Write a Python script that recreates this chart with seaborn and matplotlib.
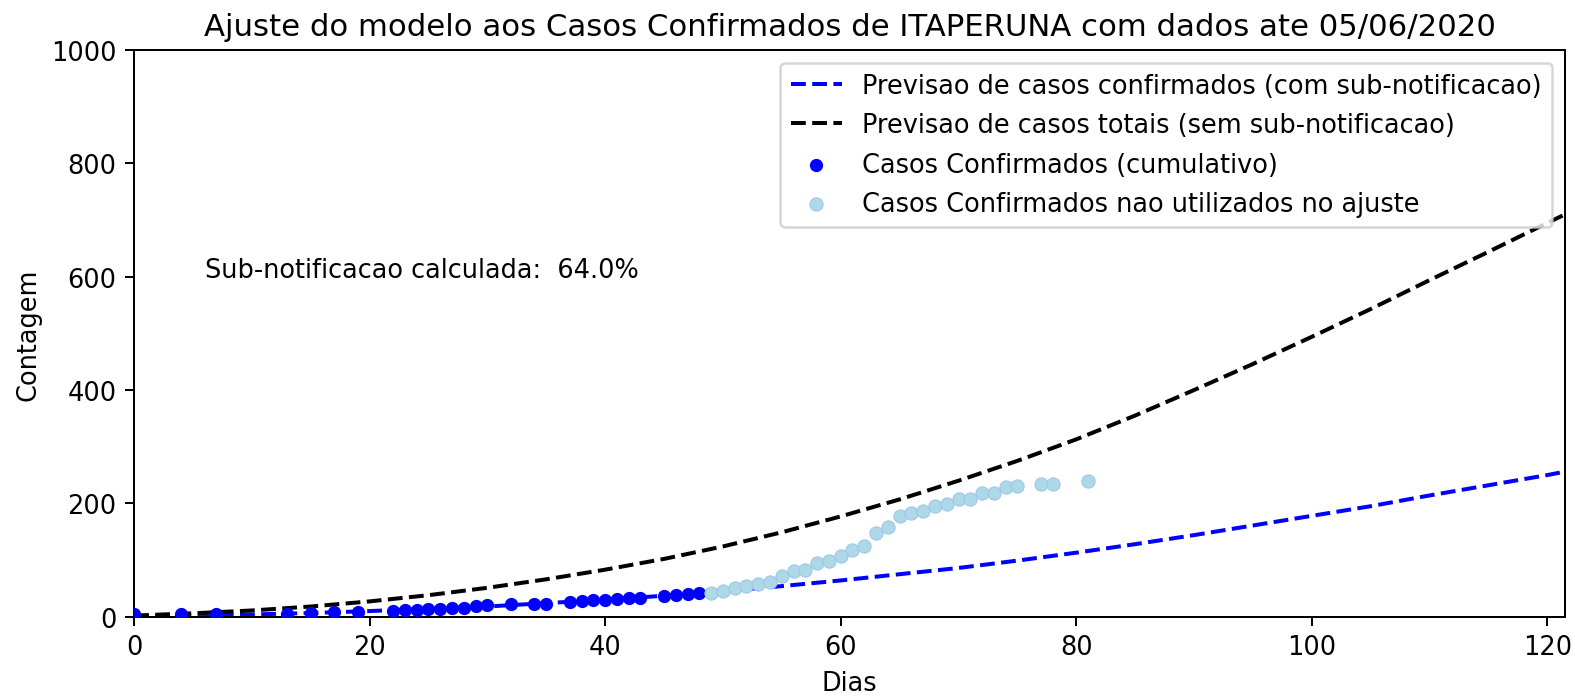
import numpy as np
import pandas as pd
import seaborn as sns
import matplotlib
matplotlib.use('Agg')
import matplotlib.pyplot as plt

plt.rcParams['font.size'] = 10.25

# Casos confirmados usados no ajuste (dias desde o primeiro caso)
dias_ajuste = [0, 4, 7, 13, 15, 17, 19, 22, 23, 24, 25, 26, 27, 28, 29, 30, 32, 34, 35,
               37, 38, 39, 40, 41, 42, 43, 45, 46, 47, 48]
casos_ajuste = [4, 4, 5, 5, 6, 8, 8, 10, 11, 12, 13, 14, 15, 16, 19, 20, 22, 23, 23,
                26, 27, 29, 30, 32, 33, 33, 37, 39, 40, 41]

# Casos confirmados nao utilizados no ajuste
dias_fora = [49, 50, 51, 52, 53, 54, 55, 56, 57, 58, 59, 60, 61, 62, 63, 64, 65, 66, 67,
             68, 69, 70, 71, 72, 73, 74, 75, 77, 78, 81]
casos_fora = [42, 45, 51, 55, 57, 61, 71, 80, 83, 94, 98, 107, 118, 124, 147, 159, 178,
              183, 186, 196, 199, 208, 208, 218, 219, 229, 231, 235, 235, 239]

# Curvas do modelo
dias_modelo = [0, 5, 10, 15, 20, 25, 30, 35, 40, 45, 50, 55, 60, 65, 70, 75, 80, 85, 90,
               95, 100, 105, 110, 115, 120, 121.5]
prev_totais = [2, 6, 11, 18, 27, 38, 51, 66, 83, 102, 124, 149, 177, 207, 240, 275, 313,
               355, 400, 446, 494, 543, 594, 644, 695, 710]
prev_confirmados = [1, 2, 4, 6.5, 10, 14, 18, 24, 30, 37, 45, 54, 64, 75, 86, 99, 113,
                    128, 144, 161, 178, 195, 214, 232, 250, 256]

subnotificacao = 64.0
data_corte = '05/06/2020'
cidade = 'ITAPERUNA'

df_modelo = pd.DataFrame({'dias': dias_modelo, 'confirmados': prev_confirmados,
                          'totais': prev_totais})
df_ajuste = pd.DataFrame({'dias': dias_ajuste, 'casos': casos_ajuste})
df_fora = pd.DataFrame({'dias': dias_fora, 'casos': casos_fora})

fig, ax = plt.subplots(figsize=(8.75, 3.8833), dpi=180)
fig.subplots_adjust(left=0.0851, right=0.9937, bottom=0.1163, top=0.927)

sns.lineplot(data=df_modelo, x='dias', y='confirmados', color='blue', linestyle='--',
             linewidth=1.6, label='Previsao de casos confirmados (com sub-notificacao)', ax=ax)
sns.lineplot(data=df_modelo, x='dias', y='totais', color='black', linestyle='--',
             linewidth=1.6, label='Previsao de casos totais (sem sub-notificacao)', ax=ax)
sns.scatterplot(data=df_ajuste, x='dias', y='casos', color='blue', s=28, linewidth=0,
                label='Casos Confirmados (cumulativo)', ax=ax, zorder=3)
sns.scatterplot(data=df_fora, x='dias', y='casos', color='lightblue', s=28,
                edgecolor='#9ec3ee', linewidth=0.4,
                label='Casos Confirmados nao utilizados no ajuste', ax=ax, zorder=3)

ax.text(6, 600, f'Sub-notificacao calculada:  {subnotificacao:.1f}%')

ax.set_xlim(0, 121.5)
ax.set_ylim(0, 1000)
ax.set_xticks(range(0, 121, 20))
ax.set_yticks(range(0, 1001, 200))
ax.set_xlabel('Dias')
ax.set_ylabel('Contagem')
ax.set_title(f'Ajuste do modelo aos Casos Confirmados de {cidade} com dados ate {data_corte}')
ax.legend(loc='upper right', labelspacing=0.52)

plt.savefig('out.png', dpi=180)
